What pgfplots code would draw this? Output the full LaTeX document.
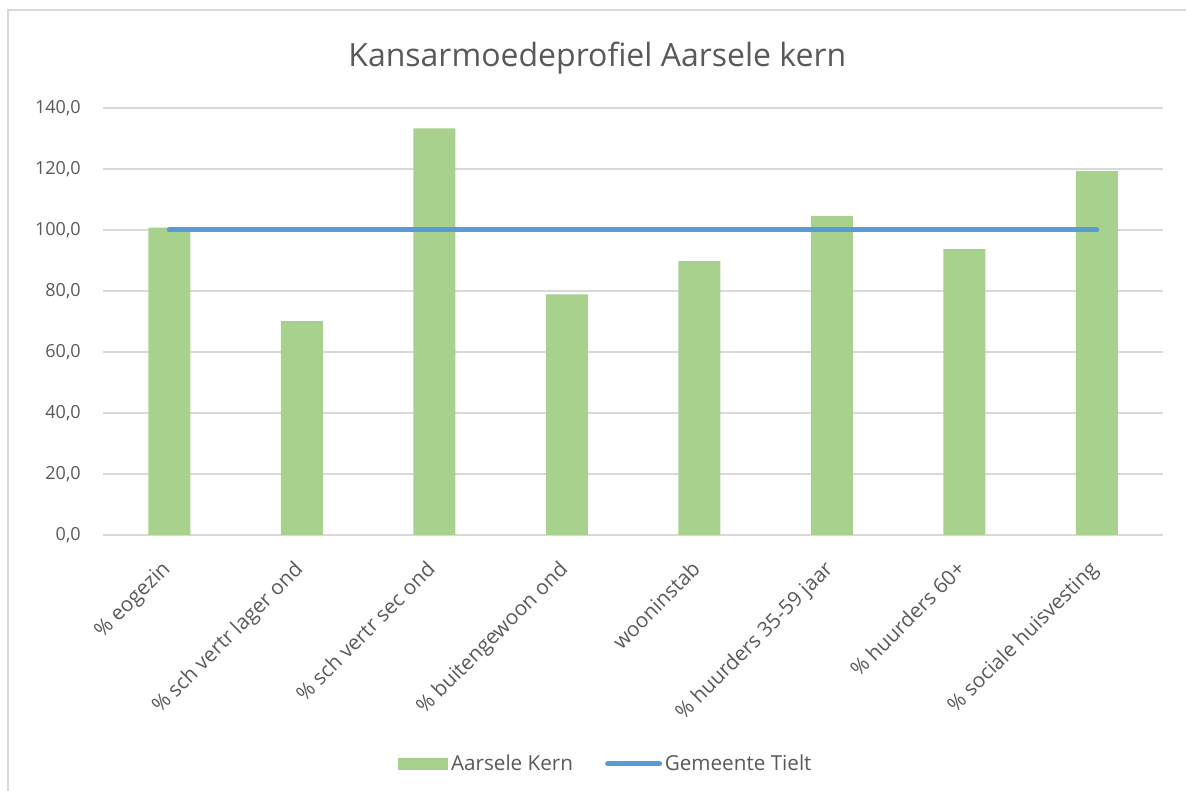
\documentclass[border=0pt]{standalone}
\usepackage{fontspec}
\setmainfont{Open Sans}
\usepackage{pgfplots}
\pgfplotsset{compat=1.18}
\definecolor{barGreen}{HTML}{A9D18E}
\definecolor{lineBlue}{HTML}{5B9BD5}
\definecolor{gridGrey}{HTML}{D9D9D9}
\definecolor{txtGrey}{HTML}{595959}

\begin{document}
\begin{tikzpicture}
% page = 1186 x 791 px, 1 px = 0.75pt
\useasboundingbox (0,0) rectangle (889.5pt,593.25pt);
\draw[gridGrey, line width=1.5pt] (6pt,-5pt) -- (6pt,585.75pt) -- (895pt,585.75pt);
\node[txtGrey, font=\fontsize{24}{28}\selectfont] at (448pt,550pt) {Kansarmoedeprofiel Aarsele kern};
\begin{axis}[
    at={(77.25pt,192pt)}, anchor=south west,
    scale only axis,
    width=795pt, height=320.25pt,
    xmin=-0.5, xmax=7.5,
    ymin=0, ymax=140,
    ytick={0,20,...,140},
    xtick={0,...,7},
    xticklabels={\% eogezin, \% sch vertr lager ond, \% sch vertr sec ond, \% buitengewoon ond, wooninstab, \% huurders 35-59 jaar, \% huurders 60+, \% sociale huisvesting},
    axis line style={draw=none},
    major tick length=0pt,
    ymajorgrids=true,
    grid style={gridGrey, line width=1.1pt},
    tick label style={txtGrey, font=\fontsize{13.5}{16}\selectfont},
    yticklabel style={inner sep=0pt, xshift=-16.5pt,
        /pgf/number format/.cd, fixed, fixed zerofill, precision=1, use comma, assume math mode=true},
    xticklabel style={rotate=45, anchor=north east, inner sep=0pt, yshift=-8pt, xshift=-17.5pt,
        font=\fontsize{15.5}{18}\selectfont},
    legend style={draw=none, fill=none, at={(0.4745,-0.536)}, anchor=center,
        legend columns=2, font=\fontsize{15.5}{18}\selectfont, text=txtGrey,
        /tikz/every even column/.append style={column sep=22pt}},
]
\addplot[ybar, bar width=31.5pt, fill=barGreen, draw=none,
    legend image code/.code={\fill[barGreen] (0pt,-4.5pt) rectangle (38pt,4.5pt);}]
coordinates {
    (0, 100.8)
    (1, 70.1)
    (2, 133.3)
    (3, 78.9)
    (4, 89.8)
    (5, 104.6)
    (6, 93.7)
    (7, 119.4)
};
\addlegendentry{Aarsele Kern}
\addplot[lineBlue, line width=3.75pt, line cap=round, mark=none,
    legend image code/.code={\draw[lineBlue, line width=3.75pt, line cap=round] (2pt,0pt) -- (41pt,0pt);}]
coordinates {
    (0, 100)
    (7, 100)
};
\addlegendentry{Gemeente Tielt}
\end{axis}
\end{tikzpicture}
\end{document}
